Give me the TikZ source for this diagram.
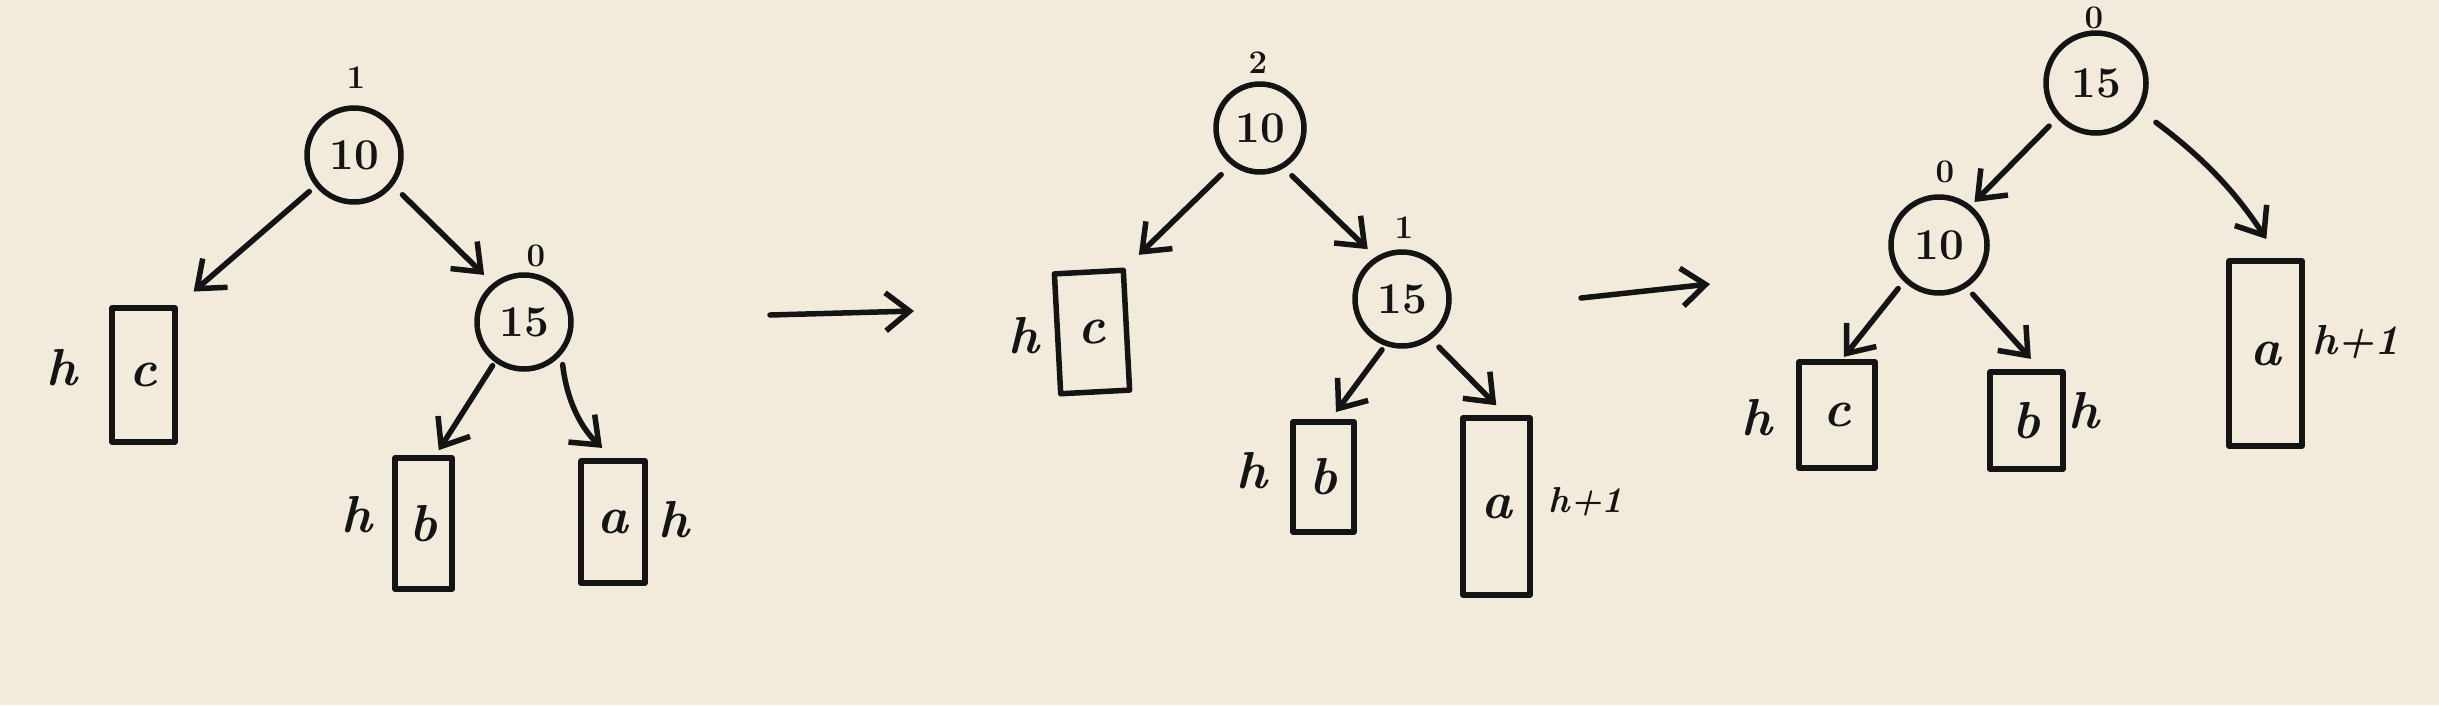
\documentclass[tikz,border=0pt]{standalone}
\usepackage{xcolor}
\usepackage{tikz}
\usetikzlibrary{arrows.meta}
\definecolor{avlPaper}{HTML}{F2EBDC}
\definecolor{avlInk}{HTML}{141414}

\begin{document}
\begin{tikzpicture}[x=1pt, y=-1pt, line width=5.5pt, line cap=round, line join=round,
        avlnode/.style={circle, draw=avlInk, text=avlInk, minimum size=#1, inner sep=0pt,
              font=\fontsize{44}{50}\selectfont\bfseries},
        subtreebox/.style 2 args={rectangle, draw=avlInk, text=avlInk, minimum width=#1,
              minimum height=#2, inner sep=0pt, font=\fontsize{52}{60}\selectfont\bfseries\itshape},
        hlabel/.style={text=avlInk, inner sep=0pt, font=\fontsize{#1}{#1}\selectfont\bfseries\itshape},
        hlabel/.default=52,
        bfactor/.style={text=avlInk, inner sep=0pt, font=\fontsize{33}{36}\selectfont\bfseries},
        link/.style={draw=avlInk, -{Straight Barb[length=24pt, width=38pt]}}]
        \fill[avlPaper] (0,0) rectangle (2439,705);

        % before the insertion
        \node[avlnode=94pt] (p1r) at (354,155) {10};
        \node[avlnode=94pt] (p1s) at (524,322) {15};
        \node[subtreebox={63pt}{134pt}] (p1c) at (143.5,375) {c};
        \node[subtreebox={57pt}{131pt}] (p1b) at (423.5,523.5) {b};
        \node[subtreebox={64pt}{122pt}] (p1a) at (613,522) {a};
        \node[bfactor] (p1rb) at (356,78) {1};
        \node[bfactor] (p1sb) at (536,256) {0};
        \node[hlabel] (p1ch) at (62,368) {h};
        \node[hlabel] (p1bh) at (357,515) {h};
        \node[hlabel] (p1ah) at (674,520) {h};
        \draw[link, shorten <=8pt, shorten >=21pt] (p1r.219) -- (p1c.north east);
        \draw[link, shorten <=13pt, shorten >=12pt] (p1r.-38) -- (p1s.129);
        \draw[link, shorten <=4pt, shorten >=6pt] (p1s.234) -- (p1b.80);
        \draw[link, shorten <=10pt, shorten >=15pt] (p1s.-41) to[bend right=20] (p1a.north);

        \coordinate (t1a) at (770,315);
        \coordinate (t1b) at (914,311);
        \draw[link] (t1a) -- (t1b);

        % after the insertion
        \node[avlnode=88pt] (p2r) at (1260,128) {10};
        \node[avlnode=94pt] (p2s) at (1402,299) {15};
        \node[subtreebox={69pt}{120pt}, rotate=3] (p2c) at (1092,332) {c};
        \node[subtreebox={61pt}{110pt}] (p2b) at (1323.5,477) {b};
        \node[subtreebox={67pt}{177pt}] (p2a) at (1496.5,506.5) {a};
        \node[bfactor] (p2rb) at (1258,63) {2};
        \node[bfactor] (p2sb) at (1404,228) {1};
        \node[hlabel] (p2ch) at (1024,336) {h};
        \node[hlabel] (p2bh) at (1252,471) {h};
        \node[hlabel=36, anchor=west] (p2ah) at (1546,502) {h+1};
        \draw[link, shorten <=14pt, shorten >=18pt] (p2r.232) -- (p2c.north east);
        \draw[link, shorten <=11pt, shorten >=11pt] (p2r.-59) -- (p2s.122);
        \draw[link, shorten <=5pt, shorten >=9pt] (p2s.250) -- (p2b.83);
        \draw[link, shorten <=11pt, shorten >=14pt] (p2s.-54) -- (p2a.84);

        \coordinate (t2a) at (1581,298);
        \coordinate (t2b) at (1710,284);
        \draw[link] (t2a) -- (t2b);

        % after the left rotation
        \node[avlnode=100pt] (p3r) at (2096,83) {15};
        \node[avlnode=96pt] (p3l) at (1939,245) {10};
        \node[subtreebox={76pt}{106pt}] (p3c) at (1837,415) {c};
        \node[subtreebox={73pt}{97pt}] (p3b) at (2026.5,420.5) {b};
        \node[subtreebox={73pt}{185pt}] (p3a) at (2265.5,353.5) {a};
        \node[bfactor] (p3rb) at (2094,18) {0};
        \node[bfactor] (p3lb) at (1945,172) {0};
        \node[hlabel] (p3ch) at (1757,418) {h};
        \node[hlabel] (p3bh) at (2084,411) {h};
        \node[hlabel=42, anchor=west] (p3ah) at (2310,342) {h+1};
        \draw[link, shorten <=11pt, shorten >=5pt] (p3r.222) -- (p3l.51);
        \draw[link, shorten <=19pt, shorten >=23pt] (p3r.-32) to[bend left=10] (p3a.82);
        \draw[link, shorten <=9pt, shorten >=3pt] (p3l.226) -- (p3c.85);
        \draw[link, shorten <=9pt, shorten >=14pt] (p3l.-57) -- (p3b.75);
    \end{tikzpicture}
\end{document}
